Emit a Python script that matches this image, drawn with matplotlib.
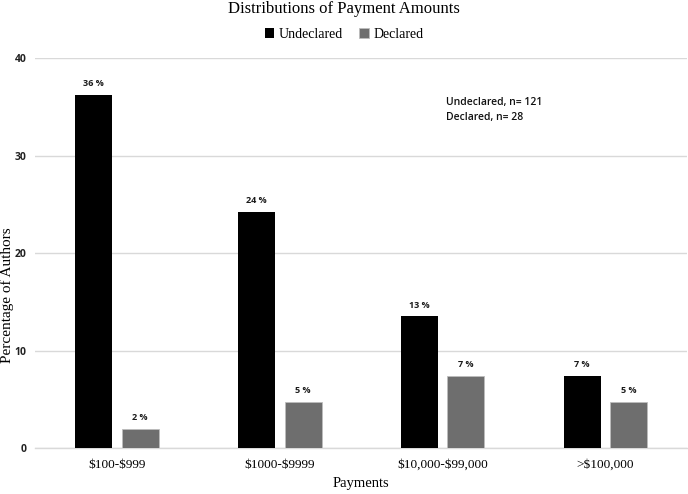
import matplotlib
matplotlib.use('Agg')
import matplotlib.pyplot as plt
import numpy as np

categories = ['$100-$999', '$1000-$9999', '$10,000-$99,000', '>$100,000']
undeclared = [36.2, 24.2, 13.5, 7.4]
declared = [2.0, 4.7, 7.4, 4.7]
undeclared_labels = ['36 %', '24 %', '13 %', '7 %']
declared_labels = ['2 %', '5 %', '7 %', '5 %']
series_names = ['Undeclared', 'Declared']
note_lines = ['Undeclared, n= 121', 'Declared, n= 28']

serif = 'Liberation Serif'
sans = 'Open Sans'

fig = plt.figure(figsize=(6.88, 4.94), dpi=100)
ax = fig.add_axes([0.051, 0.093, 0.9475, 0.7895])

x = np.arange(len(categories))
w = 0.227
off = 0.144
b1 = ax.bar(x - off, undeclared, w, color='black', label=series_names[0], zorder=3)
b2 = ax.bar(x + off, declared, w, color='#6e6e6e', edgecolor='#bdbdbd', linewidth=0.6,
            label=series_names[1], zorder=3)

for bars, labels in [(b1, undeclared_labels), (b2, declared_labels)]:
    for bar, lab in zip(bars, labels):
        ax.text(bar.get_x() + bar.get_width() / 2, bar.get_height() + 0.7, lab,
                ha='center', va='bottom', fontsize=6.5, fontweight='bold',
                family=sans, color='#1a1a1a')

ax.set_xlim(-0.5, 3.5)
ax.set_ylim(0, 40)
ax.set_yticks([0, 10, 20, 30, 40])
ax.yaxis.grid(True, color='#d9d9d9', linewidth=1.0, zorder=0)
for s in ['top', 'right', 'left']:
    ax.spines[s].set_visible(False)
ax.spines['bottom'].set_color('#d9d9d9')
ax.spines['bottom'].set_linewidth(1.0)
ax.tick_params(axis='both', length=0)
ax.tick_params(axis='y', pad=6)
ax.tick_params(axis='x', pad=8)
ax.set_xticks(x)
ax.set_xticklabels([c.replace('$', r'\$') for c in categories], family=serif, fontsize=9.5)
for t in ax.get_yticklabels():
    t.set_family(sans)
    t.set_fontsize(7.5)
    t.set_fontweight('bold')
    t.set_color('#222222')

ax.set_xlabel('Payments', family=serif, fontsize=10.5, labelpad=4)
ax.set_ylabel('Percentage of Authors', family=serif, fontsize=11, va='center')
ax.yaxis.set_label_coords(-0.0425, 0.392)

fig.text(0.5, 0.997, 'Distributions of Payment Amounts', ha='center', va='top',
         family=serif, fontsize=12)
leg = fig.legend(handles=[b1, b2], loc='center', bbox_to_anchor=(0.5, 0.93), ncol=2,
                 frameon=False, prop={'family': serif, 'size': 10},
                 handlelength=0.7, handleheight=0.7, handletextpad=0.3, columnspacing=1.2)

ax.text(0.631, 0.9, note_lines[0] + '\n' + note_lines[1], transform=ax.transAxes,
        ha='left', va='top', family=sans, fontsize=7.5, linespacing=1.45,
        fontweight='semibold', color='#111111')

fig.savefig('out.png', dpi=100)
